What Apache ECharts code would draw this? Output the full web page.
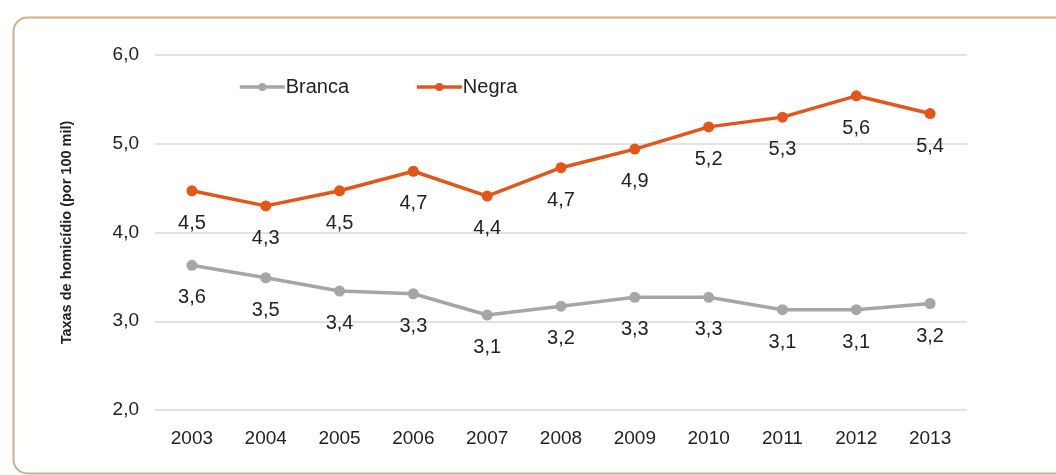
<!DOCTYPE html>
<html><head><meta charset="utf-8">
<script src="https://cdn.jsdelivr.net/npm/echarts@6/dist/echarts.min.js"></script>
<style>html,body{margin:0;padding:0;background:#fff}#c{width:1056px;height:475px}</style>
</head><body><div id="c"></div>
<script>
const years = ['2003','2004','2005','2006','2007','2008','2009','2010','2011','2012','2013'];
const branca = [3.63, 3.49, 3.34, 3.31, 3.07, 3.17, 3.27, 3.27, 3.13, 3.13, 3.20];
const brancaLabels = ['3,6','3,5','3,4','3,3','3,1','3,2','3,3','3,3','3,1','3,1','3,2'];
const negra = [4.47, 4.30, 4.47, 4.69, 4.41, 4.73, 4.94, 5.19, 5.30, 5.54, 5.34];
const negraLabels = ['4,5','4,3','4,5','4,7','4,4','4,7','4,9','5,2','5,3','5,6','5,4'];
const yTicks = ['2,0','3,0','4,0','5,0','6,0'];

const chart = echarts.init(document.getElementById('c'));
const font = 'Liberation Sans, Arial, sans-serif';
chart.setOption({
  animation: false,
  textStyle: { fontFamily: font },
  graphic: [{
    type: 'rect', left: 11, top: 15, silent: true,
    shape: { width: 1060, height: 456, r: 14 },
    style: { fill: 'none', stroke: '#CFAE8C', lineWidth: 2 }
  }],
  legend: {
    left: 233, top: 72, itemWidth: 45, itemHeight: 10, itemGap: 66,
    lineStyle: { width: 3.5 },
    textStyle: { fontSize: 20, color: '#222', fontFamily: font, padding: [0,0,0,-4] },
    data: ['Branca', 'Negra']
  },
  grid: { left: 155, right: 89, top: 55, bottom: 65 },
  xAxis: {
    type: 'category', data: years, boundaryGap: true,
    axisLine: { show: false }, axisTick: { show: false },
    axisLabel: { fontSize: 19, color: '#222', margin: 19 }
  },
  yAxis: {
    type: 'value', min: 2, max: 6, interval: 1,
    name: 'Taxas de homicídio (por 100 mil)', nameLocation: 'middle', nameGap: 81,
    nameTextStyle: { fontSize: 14.5, fontWeight: 'bold', color: '#222' },
    axisLabel: { fontSize: 19, color: '#222', margin: 16,
      formatter: v => yTicks[Math.round(v) - 2] },
    splitLine: { lineStyle: { color: '#d9d9d9', width: 1.5 } }
  },
  series: [
    {
      name: 'Branca', type: 'line', data: branca,
      symbol: 'circle', symbolSize: 11,
      lineStyle: { color: '#A6A6A6', width: 3.5 },
      itemStyle: { color: '#A6A6A6' },
      label: { show: true, position: 'bottom', distance: 17, fontSize: 20, color: '#222',
        formatter: p => brancaLabels[p.dataIndex] }
    },
    {
      name: 'Negra', type: 'line', data: negra,
      symbol: 'circle', symbolSize: 11,
      lineStyle: { color: '#E2561A', width: 3.5 },
      itemStyle: { color: '#E2561A' },
      label: { show: true, position: 'bottom', distance: 17, fontSize: 20, color: '#222',
        formatter: p => negraLabels[p.dataIndex] }
    }
  ]
});
</script></body></html>
